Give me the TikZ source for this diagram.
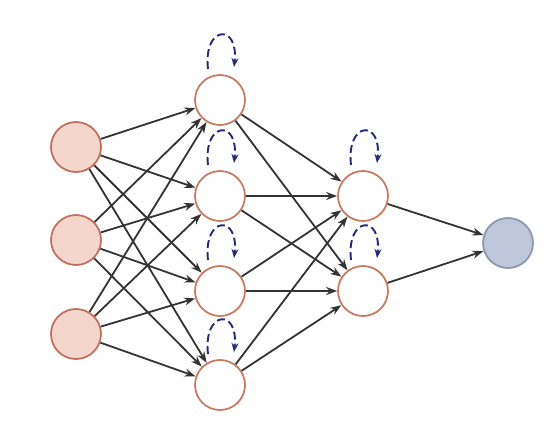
\documentclass[tikz,border=0pt]{standalone}
\usetikzlibrary{arrows.meta}
\definecolor{inFill}{HTML}{F5D6CC}
\definecolor{inDraw}{HTML}{C2725C}
\definecolor{hidDraw}{HTML}{C97C64}
\definecolor{outFill}{HTML}{BDC7DC}
\definecolor{outDraw}{HTML}{8E98AC}
\definecolor{edgeCol}{HTML}{333333}
\definecolor{loopCol}{HTML}{262B78}
\tikzset{
  neuron/.style={circle, minimum size=50pt, inner sep=0pt, line width=1.8pt},
  inneuron/.style={neuron, fill=inFill, draw=inDraw},
  hidneuron/.style={neuron, fill=white, draw=hidDraw},
  outneuron/.style={neuron, fill=outFill, draw=outDraw},
  edge/.style={draw=edgeCol, line width=1.8pt, -{Stealth[length=11pt,width=8pt]}},
  selfloop/.style={draw=loopCol, line width=1.9pt, dash pattern=on 8pt off 4pt, -{Stealth[length=9pt,width=7pt]}}
}
\begin{document}
\begin{tikzpicture}[x=1pt,y=-1pt]
\useasboundingbox (0,0) rectangle (559,424);
\node[inneuron] (i1) at (76,147) {};
\node[inneuron] (i2) at (76,240) {};
\node[inneuron] (i3) at (76,334) {};
\node[hidneuron] (a1) at (220,100) {};
\node[hidneuron] (a2) at (220,196) {};
\node[hidneuron] (a3) at (220,291) {};
\node[hidneuron] (a4) at (220,385) {};
\node[hidneuron] (b1) at (363,196) {};
\node[hidneuron] (b2) at (363,291) {};
\node[outneuron] (o) at (508,243) {};
\foreach \i in {i1,i2,i3}{
  \foreach \j in {a1,a2,a3,a4}{
    \draw[edge] (\i) -- (\j);
  }
}
\foreach \i in {a1,a2,a3,a4}{
  \foreach \j in {b1,b2}{
    \draw[edge] (\i) -- (\j);
  }
}
\draw[edge] (b1) -- (o);
\draw[edge] (b2) -- (o);
\foreach \n in {a1,a2,a3,a4,b1,b2}{
  \draw[selfloop] ([shift={(-12,-31)}]\n.center) .. controls +(-5,-44) and +(5,-44) .. ([shift={(14,-33)}]\n.center) ;
}
\end{tikzpicture}
\end{document}
